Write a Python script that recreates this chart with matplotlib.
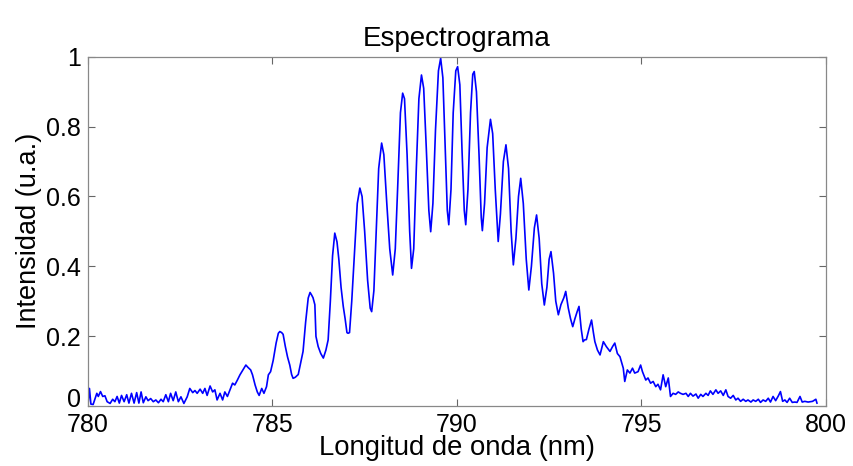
import numpy as np
import matplotlib
matplotlib.use('Agg')
import matplotlib.pyplot as plt
import matplotlib.transforms as mtransforms
from matplotlib.ticker import FuncFormatter

# Espectrograma - valores
wavelength = [
    780.00, 780.04, 780.08, 780.14, 780.24, 780.28, 780.34, 780.40, 780.46, 780.52,
    780.60, 780.67, 780.73, 780.79, 780.85, 780.91, 780.98, 781.05, 781.11, 781.18,
    781.25, 781.32, 781.38, 781.44, 781.50, 781.57, 781.63, 781.70, 781.77, 781.84,
    781.91, 781.98, 782.04, 782.11, 782.18, 782.24, 782.31, 782.38, 782.45, 782.52,
    782.60, 782.69, 782.76, 782.84, 782.90, 782.96, 783.04, 783.11, 783.17, 783.23,
    783.31, 783.38, 783.44, 783.50, 783.58, 783.65, 783.71, 783.78, 783.85, 783.92,
    783.98, 784.05, 784.12, 784.21, 784.28, 784.34, 784.41, 784.46, 784.53, 784.59,
    784.64, 784.71, 784.77, 784.84, 784.89, 784.95, 785.02, 785.10, 785.16, 785.20,
    785.25, 785.29, 785.35, 785.41, 785.47, 785.52, 785.56, 785.62, 785.70, 785.76,
    785.83, 785.90, 785.97, 786.02, 786.06, 786.10, 786.15, 786.18, 786.24, 786.31,
    786.38, 786.45, 786.51, 786.57, 786.63, 786.69, 786.75, 786.80, 786.86, 786.92,
    786.97, 787.02, 787.05, 787.09, 787.15, 787.22, 787.30, 787.37, 787.43, 787.50,
    787.58, 787.65, 787.69, 787.75, 787.82, 787.88, 787.96, 788.02, 788.10, 788.18,
    788.26, 788.33, 788.40, 788.47, 788.53, 788.58, 788.65, 788.72, 788.77, 788.83,
    788.90, 788.97, 789.04, 789.10, 789.17, 789.24, 789.29, 789.35, 789.42, 789.50,
    789.56, 789.62, 789.68, 789.74, 789.78, 789.84, 789.90, 789.97, 790.02, 790.08,
    790.14, 790.20, 790.24, 790.30, 790.37, 790.43, 790.47, 790.53, 790.60, 790.66,
    790.69, 790.75, 790.82, 790.91, 790.97, 791.04, 791.12, 791.18, 791.26, 791.33,
    791.40, 791.47, 791.53, 791.60, 791.67, 791.73, 791.80, 791.88, 791.95, 792.02,
    792.10, 792.16, 792.23, 792.30, 792.37, 792.44, 792.50, 792.55, 792.62, 792.68,
    792.75, 792.82, 792.90, 792.95, 793.02, 793.08, 793.14, 793.20, 793.26, 793.31,
    793.37, 793.42, 793.46, 793.51, 793.58, 793.65, 793.70, 793.74, 793.81, 793.88,
    793.97, 794.05, 794.15, 794.22, 794.28, 794.35, 794.42, 794.51, 794.55, 794.62,
    794.69, 794.76, 794.82, 794.91, 794.98, 795.03, 795.12, 795.18, 795.25, 795.32,
    795.39, 795.45, 795.52, 795.59, 795.66, 795.73, 795.79, 795.86, 795.93, 796.00,
    796.06, 796.13, 796.21, 796.27, 796.33, 796.40, 796.48, 796.54, 796.61, 796.67,
    796.75, 796.81, 796.87, 796.94, 797.02, 797.08, 797.15, 797.22, 797.29, 797.35,
    797.42, 797.49, 797.56, 797.62, 797.69, 797.76, 797.83, 797.89, 797.97, 798.03,
    798.10, 798.17, 798.23, 798.30, 798.37, 798.44, 798.50, 798.57, 798.64, 798.71,
    798.77, 798.83, 798.89, 798.95, 799.02, 799.09, 799.16, 799.22, 799.30, 799.36,
    799.43, 799.52, 799.64, 799.73, 799.76,
]
intensity = [
    0.003, 0.050, 0.005, 0.004, 0.036, 0.027, 0.041, 0.027, 0.029, 0.012,
    0.007, 0.019, 0.012, 0.027, 0.008, 0.030, 0.012, 0.032, 0.008, 0.036,
    0.008, 0.038, 0.008, 0.040, 0.009, 0.026, 0.015, 0.021, 0.012, 0.017,
    0.009, 0.019, 0.012, 0.032, 0.012, 0.036, 0.015, 0.040, 0.012, 0.026,
    0.007, 0.026, 0.050, 0.038, 0.044, 0.036, 0.048, 0.036, 0.050, 0.030,
    0.057, 0.040, 0.046, 0.017, 0.036, 0.017, 0.040, 0.027, 0.046, 0.065,
    0.060, 0.074, 0.089, 0.105, 0.117, 0.110, 0.103, 0.089, 0.060, 0.040,
    0.030, 0.050, 0.036, 0.055, 0.089, 0.098, 0.130, 0.180, 0.208, 0.213,
    0.210, 0.205, 0.170, 0.140, 0.117, 0.090, 0.079, 0.082, 0.090, 0.120,
    0.156, 0.240, 0.309, 0.325, 0.318, 0.310, 0.290, 0.199, 0.170, 0.150,
    0.137, 0.160, 0.189, 0.300, 0.430, 0.495, 0.470, 0.420, 0.340, 0.285,
    0.250, 0.210, 0.208, 0.210, 0.300, 0.430, 0.580, 0.624, 0.600, 0.500,
    0.360, 0.280, 0.270, 0.330, 0.520, 0.680, 0.753, 0.720, 0.580, 0.450,
    0.375, 0.450, 0.640, 0.840, 0.896, 0.880, 0.720, 0.500, 0.394, 0.450,
    0.680, 0.880, 0.948, 0.910, 0.740, 0.560, 0.499, 0.580, 0.790, 0.960,
    0.996, 0.940, 0.750, 0.560, 0.519, 0.620, 0.840, 0.960, 0.972, 0.920,
    0.730, 0.560, 0.519, 0.620, 0.840, 0.950, 0.958, 0.900, 0.720, 0.540,
    0.502, 0.580, 0.740, 0.821, 0.780, 0.620, 0.471, 0.550, 0.700, 0.748,
    0.680, 0.500, 0.404, 0.480, 0.600, 0.652, 0.580, 0.420, 0.332, 0.400,
    0.510, 0.547, 0.480, 0.350, 0.289, 0.340, 0.420, 0.442, 0.380, 0.300,
    0.261, 0.290, 0.310, 0.328, 0.280, 0.250, 0.227, 0.250, 0.270, 0.285,
    0.220, 0.184, 0.189, 0.190, 0.220, 0.246, 0.210, 0.184, 0.160, 0.146,
    0.184, 0.170, 0.156, 0.170, 0.180, 0.150, 0.141, 0.108, 0.070, 0.103,
    0.094, 0.108, 0.094, 0.098, 0.117, 0.098, 0.074, 0.080, 0.065, 0.070,
    0.055, 0.062, 0.046, 0.089, 0.055, 0.080, 0.027, 0.036, 0.033, 0.040,
    0.036, 0.033, 0.036, 0.027, 0.036, 0.028, 0.034, 0.022, 0.033, 0.027,
    0.036, 0.030, 0.043, 0.033, 0.046, 0.036, 0.043, 0.030, 0.046, 0.027,
    0.022, 0.030, 0.017, 0.022, 0.013, 0.019, 0.013, 0.017, 0.011, 0.017,
    0.013, 0.019, 0.010, 0.017, 0.013, 0.022, 0.011, 0.027, 0.015, 0.028,
    0.041, 0.013, 0.017, 0.010, 0.022, 0.010, 0.011, 0.010, 0.027, 0.011,
    0.013, 0.011, 0.013, 0.019, 0.008,
]
x_ticks = [780, 785, 790, 795, 800]
y_ticks = [0, 0.2, 0.4, 0.6, 0.8, 1]

plt.rcParams['font.family'] = ['Liberation Sans', 'DejaVu Sans']

fig = plt.figure(figsize=(8.54, 4.66), dpi=100)
ax = fig.add_axes([0.103, 0.129, 0.864, 0.749])

ax.plot(wavelength, intensity, color='#0000ff', linewidth=1.2)

ax.set_xlim(780, 800)
ax.set_ylim(0, 1)
ax.set_xticks(x_ticks)
ax.set_yticks(y_ticks)
# estilo MATLAB: 0, 0.2, ..., 1
ax.yaxis.set_major_formatter(FuncFormatter(lambda v, p: '%g' % v))

ax.tick_params(direction='in', top=True, right=True, length=5, width=0.8,
               color='#666666', labelsize=18)
ax.tick_params(axis='x', pad=5)
ax.tick_params(axis='y', pad=5)
for s in ax.spines.values():
    s.set_color('#888888')
    s.set_linewidth(0.9)

ax.set_title('Espectrograma', fontsize=20, pad=8)
ax.set_xlabel('Longitud de onda (nm)', fontsize=19.8, labelpad=-1)
ax.set_ylabel('Intensidad (u.a.)', fontsize=19.5, labelpad=3)

# el "0" del eje y queda algo por encima, como en la figura original
fig.canvas.draw()
lab0 = ax.get_yticklabels()[0]
lab0.set_transform(lab0.get_transform() +
                   mtransforms.ScaledTranslation(0, 8 / 100, fig.dpi_scale_trans))

fig.savefig('out.png', dpi=100)
